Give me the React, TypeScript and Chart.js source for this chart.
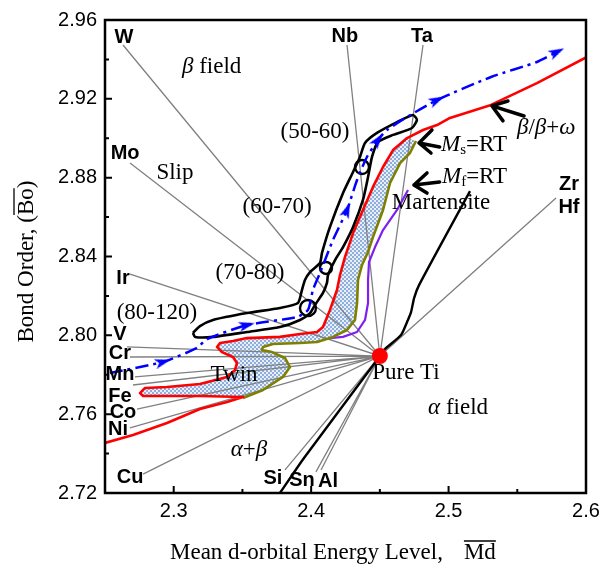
import React, { useEffect, useRef } from "react";
import { Chart, registerables } from "chart.js";

Chart.register(...registerables);

type P = [number, number];

// ---------- axes ----------
const xMin = 2.25;
const xMax = 2.6;
const yMin = 2.72;
const yMax = 2.96;
const xTickLabels = [2.3, 2.4, 2.5, 2.6];
const xMinorTicks = [2.35, 2.45, 2.55];
const yTickLabels = [2.72, 2.76, 2.8, 2.84, 2.88, 2.92, 2.96];
const yMinorTicks = [2.74, 2.78, 2.82, 2.86, 2.9, 2.94];

// ---------- data ----------
const pureTi: P = [2.45, 2.7895];

// alloying-element vectors (end point of each line, the other end is pure Ti)
const elementLineEnds: P[] = [
  [2.2631, 2.9473], // W
  [2.2682, 2.8874], // Mo
  [2.2682, 2.8311], // Ir
  [2.266, 2.7941], // V
  [2.2682, 2.789], // Cr
  [2.2718, 2.7789], // Mn
  [2.2704, 2.7748], // Fe
  [2.2733, 2.7626], // Co
  [2.2682, 2.753], // Ni
  [2.2777, 2.7296], // Cu
  [2.381, 2.7317], // Si
  [2.4035, 2.7307], // Sn
  [2.4072, 2.7317], // Al
  [2.4261, 2.9473], // Nb
  [2.4814, 2.9473], // Ta
  [2.5782, 2.8697], // Zr, Hf
];

const elementNames = ["W", "Mo", "Ir", "V", "Cr", "Mn", "Fe", "Co", "Ni", "Cu", "Si", "Sn", "Al", "Nb", "Ta", "Zr", "Hf"];
const elementLabelPos: P[] = [
  [2.2638, 2.9509],
  [2.2646, 2.8925],
  [2.2631, 2.8286],
  [2.2609, 2.8002],
  [2.2609, 2.791],
  [2.2609, 2.7799],
  [2.2609, 2.7692],
  [2.2631, 2.7606],
  [2.2595, 2.752],
  [2.2682, 2.7281],
  [2.3722, 2.7276],
  [2.3933, 2.7261],
  [2.4123, 2.7256],
  [2.4246, 2.9514],
  [2.4807, 2.9514],
  [2.5876, 2.8763],
  [2.5876, 2.8651],
];

// red line (Ms = RT and beta/beta+omega boundary)
const redLower: P[] = [
  [2.25, 2.7454], [2.2704, 2.7494], [2.2951, 2.7555], [2.3191, 2.7626], [2.3388, 2.7662], [2.3504, 2.7687],
];
const redLobe: P[] = [
  [2.3191, 2.7692], [2.2951, 2.7692], [2.2777, 2.7692], [2.2755, 2.7707], [2.2791, 2.7733], [2.2951, 2.7738],
  [2.3191, 2.7753], [2.3388, 2.7789], [2.3446, 2.7824], [2.346, 2.786], [2.3431, 2.789], [2.3351, 2.7915],
  [2.3315, 2.7941], [2.3337, 2.7961], [2.3431, 2.7971], [2.3533, 2.7986], [2.3773, 2.7992], [2.3919, 2.8007],
  [2.4043, 2.8017], [2.4086, 2.8042], [2.4137, 2.8129], [2.4188, 2.823], [2.421, 2.8306], [2.4246, 2.8397],
  [2.4305, 2.8519], [2.4377, 2.8636], [2.445, 2.8753], [2.4523, 2.8854], [2.4596, 2.894], [2.4698, 2.9001],
];
const redUpper: P[] = [
  [2.4814, 2.9042], [2.4916, 2.9067], [2.501, 2.9103], [2.5309, 2.9169], [2.5643, 2.928], [2.6, 2.941],
];

// olive line (lower boundary of the twin region)
const oliveLine: P[] = [
  [2.3504, 2.7682], [2.365, 2.7723], [2.3795, 2.7789], [2.3846, 2.7839], [2.381, 2.7885], [2.3715, 2.7915],
  [2.3642, 2.7926], [2.365, 2.7941], [2.3722, 2.7956], [2.3919, 2.7961], [2.4043, 2.7966], [2.4159, 2.7992],
  [2.4261, 2.8027], [2.4319, 2.8078], [2.4334, 2.8164], [2.4341, 2.8281], [2.437, 2.8357], [2.4414, 2.8423],
  [2.445, 2.8499], [2.4523, 2.8636], [2.4574, 2.8773], [2.4647, 2.8874], [2.4719, 2.8925], [2.4763, 2.8986],
];

// purple line (Mf = RT)
const purpleLine: P[] = [
  [2.4137, 2.7986], [2.4232, 2.7992], [2.4334, 2.8017], [2.4392, 2.8078], [2.4414, 2.8164], [2.4414, 2.8281],
  [2.4421, 2.8372], [2.4465, 2.8448], [2.4523, 2.8534], [2.4625, 2.8636], [2.4705, 2.8737],
];

// black alpha / alpha+beta boundary
const blackBoundary: P[] = [
  [2.3773, 2.72], [2.3948, 2.7378], [2.4501, 2.7895], [2.453, 2.7926], [2.4654, 2.8002], [2.4698, 2.8068],
  [2.4727, 2.8118], [2.4749, 2.8189], [2.4785, 2.8255], [2.5156, 2.8732],
];

// black composition loop (80-120 ... 50-60)
const compositionLoop: P[] = [
  [2.314, 2.8012], [2.3191, 2.8047], [2.3286, 2.8078], [2.3533, 2.8113], [2.3773, 2.8139], [2.3904, 2.8164],
  [2.3933, 2.823], [2.3955, 2.8281], [2.3992, 2.8321], [2.4064, 2.8367], [2.4079, 2.8418], [2.4137, 2.855],
  [2.4232, 2.8722], [2.4305, 2.8829], [2.4355, 2.8905], [2.4392, 2.8976], [2.4479, 2.9027], [2.4625, 2.9082],
  [2.4741, 2.9118], [2.477, 2.9093], [2.4734, 2.9052], [2.4596, 2.9017], [2.4486, 2.8981], [2.4443, 2.8905],
  [2.4414, 2.8803], [2.4377, 2.8687], [2.4305, 2.855], [2.4232, 2.8448], [2.4174, 2.8382], [2.4123, 2.8306],
  [2.4115, 2.8266], [2.4086, 2.8215], [2.4028, 2.8154], [2.3992, 2.8113], [2.3919, 2.8078], [2.3773, 2.8042],
  [2.3533, 2.8017], [2.3286, 2.7992], [2.3155, 2.7992], [2.314, 2.8012],
];
const loopJoints: P[] = [[2.3977, 2.8139], [2.4108, 2.8342], [2.437, 2.8854]];
const loopJointRadius = [8, 6, 7];

// blue dash-dot path with arrows
const bluePath: P[] = [
  [2.2536, 2.7809], [2.2922, 2.7865], [2.3169, 2.7936], [2.3242, 2.7981], [2.3533, 2.8052], [2.3897, 2.8093],
  [2.3977, 2.8129], [2.4013, 2.823], [2.4064, 2.8316], [2.4159, 2.8484], [2.4261, 2.8636], [2.4334, 2.8788],
  [2.4406, 2.8905], [2.4486, 2.8991], [2.4552, 2.9042], [2.4698, 2.9108], [2.4916, 2.9194], [2.5309, 2.9311],
  [2.5643, 2.9387], [2.5789, 2.9438],
];
const blueArrowIndex = [1, 4, 10, 13, 16, 19];

// thick black pointer arrows (wing, tip, shaft end, tip, wing)
const arrowBetaOmega: P[] = [[2.5432, 2.9189], [2.5316, 2.9164], [2.5549, 2.9113], [2.5316, 2.9164], [2.5396, 2.9088]];
const arrowMs: P[] = [[2.4879, 2.9042], [2.4785, 2.8976], [2.4935, 2.8956], [2.4785, 2.8976], [2.4872, 2.8925]];
const arrowMf: P[] = [[2.4843, 2.8824], [2.4748, 2.8763], [2.4935, 2.8778], [2.4748, 2.8763], [2.4843, 2.8722]];

// ---------- text ----------
type Seg = { t: string; it?: boolean; sz?: number; dy?: number };
type RichLabel = { segs: Seg[]; pos: P; align: "left" | "center" };

const regionLabels: RichLabel[] = [
  { segs: [{ t: "β", it: true }, { t: " field" }], pos: [2.306, 2.9362], align: "left" },
  { segs: [{ t: "Slip" }], pos: [2.3009, 2.8824], align: "center" },
  { segs: [{ t: "(50-60)" }], pos: [2.4028, 2.9032], align: "center" },
  { segs: [{ t: "(60-70)" }], pos: [2.3752, 2.8651], align: "center" },
  { segs: [{ t: "(70-80)" }], pos: [2.3555, 2.8316], align: "center" },
  { segs: [{ t: "(80-120)" }], pos: [2.2878, 2.8113], align: "center" },
  { segs: [{ t: "Twin" }], pos: [2.3439, 2.7799], align: "center" },
  { segs: [{ t: "Martensite" }], pos: [2.4945, 2.8671], align: "center" },
  { segs: [{ t: "M", it: true }, { t: "s", sz: 15, dy: 5 }, { t: "=RT" }], pos: [2.4945, 2.8966], align: "left" },
  { segs: [{ t: "M", it: true }, { t: "f", sz: 15, dy: 5 }, { t: "=RT" }], pos: [2.4952, 2.8803], align: "left" },
  {
    segs: [{ t: "β", it: true }, { t: "/" }, { t: "β", it: true }, { t: "+" }, { t: "ω", it: true }],
    pos: [2.5498, 2.9052],
    align: "left",
  },
  { segs: [{ t: "Pure Ti" }], pos: [2.469, 2.7809], align: "center" },
  { segs: [{ t: "α", it: true }, { t: " field" }], pos: [2.5069, 2.7631], align: "center" },
  { segs: [{ t: "α", it: true }, { t: "+" }, { t: "β", it: true }], pos: [2.3548, 2.7418], align: "center" },
];

const xTitleMain = "Mean d-orbital Energy Level,";
const xTitleBar = "Md";
const yTitleBefore = "Bond Order, (";
const yTitleBar = "Bo";
const yTitleAfter = ")";

const SERIF = '"Liberation Serif", "Times New Roman", serif';
const SANS = '"Liberation Sans", Arial, sans-serif';

const toXY = (arr: P[]) => arr.map(([x, y]) => ({ x, y }));

function drawRich(ctx: CanvasRenderingContext2D, segs: Seg[], x: number, y: number, align: "left" | "center") {
  const fontFor = (s: Seg) => `${s.it ? "italic " : ""}${s.sz ?? 23}px ${SERIF}`;
  const widths = segs.map((s) => {
    ctx.font = fontFor(s);
    return ctx.measureText(s.t).width;
  });
  const total = widths.reduce((a, b) => a + b, 0);
  let cx = align === "center" ? x - total / 2 : x;
  segs.forEach((s, i) => {
    ctx.font = fontFor(s);
    ctx.fillText(s.t, cx, y + (s.dy ?? 0));
    cx += widths[i];
  });
}

function makeArrowHead(): HTMLCanvasElement {
  const c = document.createElement("canvas");
  c.width = 10;
  c.height = 16;
  const g = c.getContext("2d")!;
  g.fillStyle = "#0000ff";
  g.beginPath();
  g.moveTo(5, 0);
  g.lineTo(10, 16);
  g.lineTo(5, 12);
  g.lineTo(0, 16);
  g.closePath();
  g.fill();
  return c;
}

const twinFillPlugin = {
  id: "twinFill",
  beforeDatasetsDraw(chart: any) {
    const { ctx, scales } = chart;
    const xs = scales.x;
    const ys = scales.y;
    const poly: P[] = [redLower[redLower.length - 1], ...redLobe, ...oliveLine.slice().reverse()];
    const tile = document.createElement("canvas");
    tile.width = 4;
    tile.height = 4;
    const t = tile.getContext("2d")!;
    t.fillStyle = "#e8eff9";
    t.fillRect(0, 0, 4, 4);
    t.fillStyle = "#8eaedb";
    t.fillRect(0, 0, 2, 2);
    t.fillRect(2, 2, 2, 2);
    const pattern = ctx.createPattern(tile, "repeat");
    ctx.save();
    ctx.beginPath();
    poly.forEach(([x, y], i) => {
      const px = xs.getPixelForValue(x);
      const py = ys.getPixelForValue(y);
      if (i === 0) ctx.moveTo(px, py);
      else ctx.lineTo(px, py);
    });
    ctx.closePath();
    ctx.fillStyle = pattern || "#b8cce8";
    ctx.fill();
    ctx.restore();
  },
};

const annotationPlugin = {
  id: "annotations",
  afterDatasetsDraw(chart: any) {
    const { ctx, scales } = chart;
    const xs = scales.x;
    const ys = scales.y;
    ctx.save();
    ctx.fillStyle = "#000";
    ctx.textBaseline = "middle";
    ctx.textAlign = "left";
    regionLabels.forEach((l) => {
      drawRich(ctx, l.segs, xs.getPixelForValue(l.pos[0]), ys.getPixelForValue(l.pos[1]), l.align);
    });
    ctx.font = `bold 20px ${SANS}`;
    ctx.textAlign = "center";
    elementNames.forEach((n, i) => {
      const p = elementLabelPos[i];
      ctx.fillText(n, xs.getPixelForValue(p[0]), ys.getPixelForValue(p[1]));
    });
    ctx.restore();
  },
  afterDraw(chart: any) {
    const { ctx, chartArea, scales } = chart;
    const { left, top, right, bottom } = chartArea;
    ctx.save();
    // frame
    ctx.strokeStyle = "#000";
    ctx.lineWidth = 2.5;
    ctx.strokeRect(left, top, right - left, bottom - top);
    // inward ticks
    ctx.lineWidth = 2;
    ctx.beginPath();
    const xt = (v: number, len: number) => {
      const px = scales.x.getPixelForValue(v);
      ctx.moveTo(px, bottom);
      ctx.lineTo(px, bottom - len);
    };
    const yt = (v: number, len: number) => {
      const py = scales.y.getPixelForValue(v);
      ctx.moveTo(left, py);
      ctx.lineTo(left + len, py);
    };
    xTickLabels.forEach((v) => xt(v, 7));
    xMinorTicks.forEach((v) => xt(v, 4));
    yTickLabels.forEach((v) => yt(v, 7));
    yMinorTicks.forEach((v) => yt(v, 4));
    ctx.stroke();

    // axis titles
    ctx.fillStyle = "#000";
    ctx.font = `23px ${SERIF}`;
    ctx.textBaseline = "middle";
    ctx.textAlign = "left";
    const xy = bottom + 60;
    const x0 = left + 65;
    const w1 = ctx.measureText(xTitleMain).width;
    const barX = x0 + w1 + 21;
    const wBar = ctx.measureText(xTitleBar).width;
    ctx.fillText(xTitleMain, x0, xy);
    ctx.fillText(xTitleBar, barX, xy);
    ctx.lineWidth = 1.3;
    ctx.beginPath();
    ctx.moveTo(barX, xy - 12);
    ctx.lineTo(barX + wBar, xy - 12);
    ctx.stroke();

    ctx.translate(left - 78, (top + bottom) / 2 + 5);
    ctx.rotate(-Math.PI / 2);
    const wa = ctx.measureText(yTitleBefore).width;
    const wb = ctx.measureText(yTitleBar).width;
    const wc = ctx.measureText(yTitleAfter).width;
    const start = -(wa + wb + wc) / 2;
    ctx.fillText(yTitleBefore, start, 0);
    ctx.fillText(yTitleBar, start + wa, 0);
    ctx.fillText(yTitleAfter, start + wa + wb, 0);
    ctx.beginPath();
    ctx.moveTo(start + wa, -13);
    ctx.lineTo(start + wa + wb, -13);
    ctx.stroke();
    ctx.restore();
  },
};

export default function App() {
  const ref = useRef<HTMLCanvasElement>(null);

  useEffect(() => {
    const canvas = ref.current;
    if (!canvas) return;

    const line = (data: P[], color: string, width: number, order: number, extra: any = {}) => ({
      data: toXY(data),
      showLine: true,
      borderColor: color,
      backgroundColor: color,
      borderWidth: width,
      pointRadius: 0,
      pointHoverRadius: 0,
      fill: false,
      tension: 0,
      order,
      ...extra,
    });

    const starData: P[] = elementLineEnds.flatMap((e) => [e, pureTi]);
    const arrowHead = makeArrowHead();

    const chart = new Chart(canvas, {
      type: "scatter",
      data: {
        datasets: [
          {
            data: toXY([pureTi]),
            pointRadius: 8,
            pointHoverRadius: 8,
            backgroundColor: "#ff0000",
            borderColor: "#ff0000",
            borderWidth: 0,
            showLine: false,
            order: 0,
          },
          line(arrowBetaOmega, "#000", 3.5, 2, { borderJoinStyle: "round", borderCapStyle: "round" }),
          line(arrowMs, "#000", 3.5, 2, { borderJoinStyle: "round", borderCapStyle: "round" }),
          line(arrowMf, "#000", 3.5, 2, { borderJoinStyle: "round", borderCapStyle: "round" }),
          {
            data: toXY(blueArrowIndex.map((i) => bluePath[i])),
            showLine: false,
            pointStyle: arrowHead,
            pointRadius: 8,
            pointHoverRadius: 8,
            backgroundColor: "#0000ff",
            borderColor: "#0000ff",
            borderWidth: 0,
            order: 3,
            rotation: (c: any) => {
              const k = c.dataIndex;
              if (k === undefined || k === null) return 0;
              const idx = blueArrowIndex[k];
              const a = bluePath[Math.max(idx - 1, 0)];
              const b = bluePath[Math.min(idx + 1, bluePath.length - 1)];
              const xs = c.chart.scales.x;
              const ys = c.chart.scales.y;
              const dx = xs.getPixelForValue(b[0]) - xs.getPixelForValue(a[0]);
              const dy = ys.getPixelForValue(b[1]) - ys.getPixelForValue(a[1]);
              return (Math.atan2(dy, dx) * 180) / Math.PI + 90;
            },
          },
          line(bluePath, "#0000ff", 2.5, 4, { borderDash: [13, 5, 3, 5], tension: 0.2 }),
          line(compositionLoop, "#000", 2.6, 5, { tension: 0.2, borderJoinStyle: "round" }),
          {
            data: toXY(loopJoints),
            showLine: false,
            pointRadius: loopJointRadius,
            pointHoverRadius: loopJointRadius,
            backgroundColor: "rgba(0,0,0,0)",
            borderColor: "#000",
            borderWidth: 2.4,
            order: 5,
          },
          line(blackBoundary, "#000", 2.4, 5, { tension: 0.2 }),
          line([...redLower, ...redLobe, ...redUpper], "#ff0000", 2.6, 7, { borderJoinStyle: "round" }),
          line(oliveLine, "#808000", 2.6, 7, { borderJoinStyle: "round" }),
          line(purpleLine, "#8020f0", 2.2, 7, { borderJoinStyle: "round" }),
          line(starData, "#808080", 1.3, 9),
        ],
      },
      options: {
        animation: false,
        responsive: false,
        devicePixelRatio: 1,
        events: [],
        layout: { padding: { top: 20, right: 22, left: 0, bottom: 0 } },
        plugins: {
          legend: { display: false },
          tooltip: { enabled: false },
          title: { display: false },
        },
        scales: {
          x: {
            type: "linear",
            min: xMin,
            max: xMax,
            afterBuildTicks: (axis: any) => {
              axis.ticks = xTickLabels.map((v) => ({ value: v }));
            },
            afterFit: (axis: any) => {
              axis.height = 77;
            },
            ticks: {
              color: "#000",
              font: { family: SANS, size: 20 },
              padding: 6,
              maxRotation: 0,
              autoSkip: false,
              callback: (v: any) => Number(v).toFixed(1),
            },
            grid: { display: false, drawTicks: false },
            border: { display: false },
          },
          y: {
            type: "linear",
            min: yMin,
            max: yMax,
            afterBuildTicks: (axis: any) => {
              axis.ticks = yTickLabels.map((v) => ({ value: v }));
            },
            afterFit: (axis: any) => {
              axis.width = 105;
            },
            ticks: {
              color: "#000",
              font: { family: SANS, size: 20 },
              padding: 8,
              autoSkip: false,
              callback: (v: any) => Number(v).toFixed(2),
            },
            grid: { display: false, drawTicks: false },
            border: { display: false },
          },
        },
      },
      plugins: [twinFillPlugin, annotationPlugin],
    } as any);

    return () => chart.destroy();
  }, []);

  return (
    <div style={{ position: "absolute", left: 0, top: 0, width: 608, height: 570, background: "#fff" }}>
      <canvas ref={ref} width={608} height={570} style={{ display: "block", width: 608, height: 570 }} />
    </div>
  );
}
